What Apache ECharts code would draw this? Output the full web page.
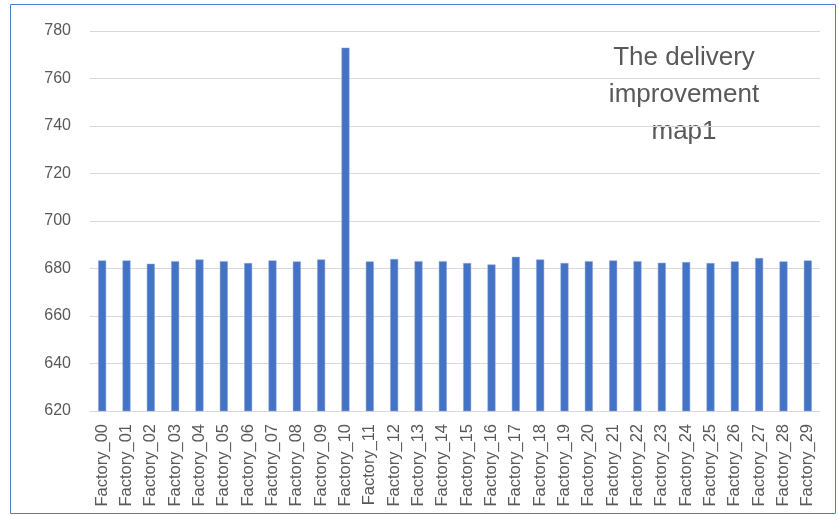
<!DOCTYPE html>
<html>
<head>
<meta charset="utf-8">
<script src="https://cdn.jsdelivr.net/npm/echarts@6/dist/echarts.min.js"></script>
<style>
  html, body { margin: 0; padding: 0; background: #fff; }
</style>
</head>
<body>
<div id="main" style="width: 839px;height:516px;"></div>
<script>
// categories on the x axis
var factories = ['Factory_00', 'Factory_01', 'Factory_02', 'Factory_03', 'Factory_04', 'Factory_05',
    'Factory_06', 'Factory_07', 'Factory_08', 'Factory_09', 'Factory_10', 'Factory_11',
    'Factory_12', 'Factory_13', 'Factory_14', 'Factory_15', 'Factory_16', 'Factory_17',
    'Factory_18', 'Factory_19', 'Factory_20', 'Factory_21', 'Factory_22', 'Factory_23',
    'Factory_24', 'Factory_25', 'Factory_26', 'Factory_27', 'Factory_28', 'Factory_29'];
// values
var delivery = [683.4, 683.4, 682.0, 683.1, 683.8, 683.1, 682.3, 683.4, 683.0, 683.8,
    773.0, 683.0, 684.0, 683.1, 683.1, 682.3, 681.7, 684.9, 683.8, 682.3,
    683.1, 683.4, 683.1, 682.4, 682.7, 682.3, 683.0, 684.4, 683.0, 683.4];
// y axis range
var yMin = 620;
var yMax = 780;
var yStep = 20;
var chartTitle = 'The delivery\nimprovement\nmap1';

var myChart = echarts.init(document.getElementById('main'));
myChart.setOption({
    animation: false,
    grid: { left: 90, right: 19, top: 31, bottom: 105 },
    graphic: [
        {
            type: 'rect',
            shape: { x: 10.5, y: 4.5, width: 825, height: 509 },
            style: { fill: 'none', stroke: '#4f80d4', lineWidth: 1 },
            silent: true
        },
        {
            type: 'text',
            x: 684,
            y: 39,
            style: {
                text: chartTitle,
                textAlign: 'center',
                textVerticalAlign: 'top',
                font: '26px "Liberation Sans"',
                lineHeight: 37,
                fill: '#595959'
            }
        }
    ],
    xAxis: {
        type: 'category',
        data: factories,
        axisTick: { show: false },
        axisLine: { lineStyle: { color: '#d9d9d9', width: 1 } },
        axisLabel: {
            rotate: 90,
            interval: 0,
            margin: 13,
            color: '#595959',
            fontSize: 16.5,
            fontFamily: 'Liberation Sans'
        }
    },
    yAxis: {
        type: 'value',
        min: yMin,
        max: yMax,
        interval: yStep,
        axisLine: { show: false },
        axisTick: { show: false },
        splitLine: { lineStyle: { color: '#d9d9d9', width: 1 } },
        axisLabel: {
            margin: 19,
            color: '#595959',
            fontSize: 16,
            fontFamily: 'Liberation Sans'
        }
    },
    series: [
        {
            type: 'bar',
            data: delivery,
            barWidth: 8,
            itemStyle: { color: '#4472c4', borderColor: '#8fa9dc', borderWidth: 0.5 }
        }
    ]
});
</script>
</body>
</html>
